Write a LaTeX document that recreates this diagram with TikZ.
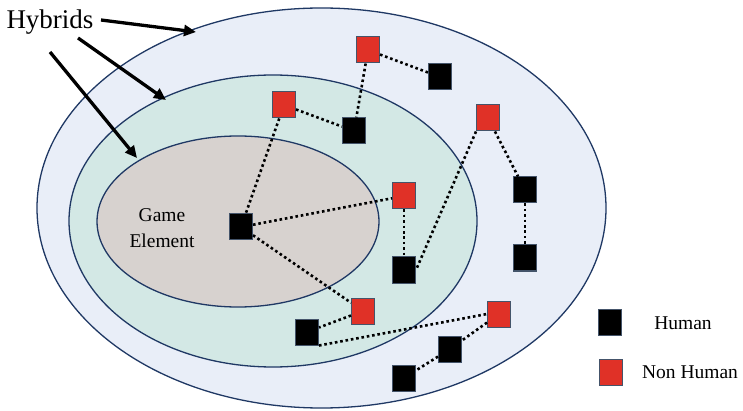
\documentclass[tikz,border=0pt]{standalone}
\usepackage{fontspec}
\setmainfont{Liberation Serif}
\usetikzlibrary{arrows.meta,shapes.geometric}
\definecolor{ringline}{HTML}{1F3864}
\definecolor{outerfill}{HTML}{E9EEF8}
\definecolor{midfill}{HTML}{D3E8E5}
\definecolor{corefill}{HTML}{D7D2CF}
\definecolor{nhred}{HTML}{E03127}
\definecolor{boxedge}{HTML}{44546A}
\tikzset{
  ring/.style={ellipse, draw=ringline, line width=1.3pt, inner sep=0pt},
  agent/.style={rectangle, draw=boxedge, line width=1pt, minimum width=23pt, minimum height=26pt, inner sep=0pt},
  human/.style={agent, fill=black},
  nonhuman/.style={agent, fill=nhred},
  tie/.style={line width=2.6pt, dash pattern=on 2.6pt off 2.8pt, black},
  pointer/.style={line width=3.3pt, -{Triangle[length=12pt,width=11pt]}},
  lbl/.style={font=\fontsize{19.5}{26}\selectfont, align=center, inner sep=0pt}
}
\begin{document}
\begin{tikzpicture}[x=1pt,y=-1pt]
\useasboundingbox (0,0) rectangle (743,411);

% nested environments
\node[ring, fill=outerfill, minimum width=569pt, minimum height=400pt] (outer) at (321.5,208) {};
\node[ring, fill=midfill, minimum width=408pt, minimum height=292pt] (middle) at (273,221) {};
\node[ring, fill=corefill, minimum width=282pt, minimum height=171pt] (core) at (238,221.5) {};

\node[lbl] (game) at (162,228) {Game\\Element};

% agents
\node[nonhuman] (r1) at (368,50) {};
\node[human]    (h1) at (440,77) {};
\node[nonhuman] (r2) at (284,105) {};
\node[human]    (h2) at (354,131) {};
\node[nonhuman] (r3) at (488,118) {};
\node[human]    (h3) at (525,190) {};
\node[human]    (h4) at (525,258) {};
\node[human]    (hc) at (241,227) {};
\node[nonhuman] (r4) at (404,196) {};
\node[human]    (h5) at (404,270) {};
\node[nonhuman] (r5) at (363,311) {};
\node[human]    (h6) at (307,332) {};
\node[nonhuman] (r6) at (499,314) {};
\node[human]    (h7) at (450,349) {};
\node[human]    (h8) at (404,378) {};

% ties between agents
\draw[tie] (r1) -- (h1);
\draw[tie] (r1) -- (h2);
\draw[tie] (r2) -- (h2);
\draw[tie] (r2) -- (hc);
\draw[tie] (hc) -- (r4);
\draw[tie] (hc) -- (r5);
\draw[tie] (r4) -- (h5);
\draw[tie] (r3.south west) -- (h5.east);
\draw[tie] (r3) -- (h3);
\draw[tie] (h3) -- (h4);
\draw[tie] (r5) -- (h6);
\draw[tie] (h6.south east) -- (r6.west);
\draw[tie] (r6) -- (h7);
\draw[tie] (h7) -- (h8);

% hybrids label with pointers to each ring
\node[font=\fontsize{27}{30}\selectfont, inner sep=0pt] (hyb) at (50,22) {Hybrids};
\coordinate (s1) at (101,20);
\coordinate (s2) at (78,38);
\coordinate (s3) at (50,52);
\coordinate (t1) at (196,32);
\coordinate (t2) at (166,100);
\coordinate (t3) at (137,158);
\draw[pointer] (s1) -- (t1);
\draw[pointer] (s2) -- (t2);
\draw[pointer] (s3) -- (t3);

% legend
\node[human]    (lh) at (610,322) {};
\node[nonhuman] (lr) at (611,372) {};
\node[lbl] (lht) at (683,323) {Human};
\node[lbl] (lrt) at (690,372) {Non Human};
\end{tikzpicture}
\end{document}
